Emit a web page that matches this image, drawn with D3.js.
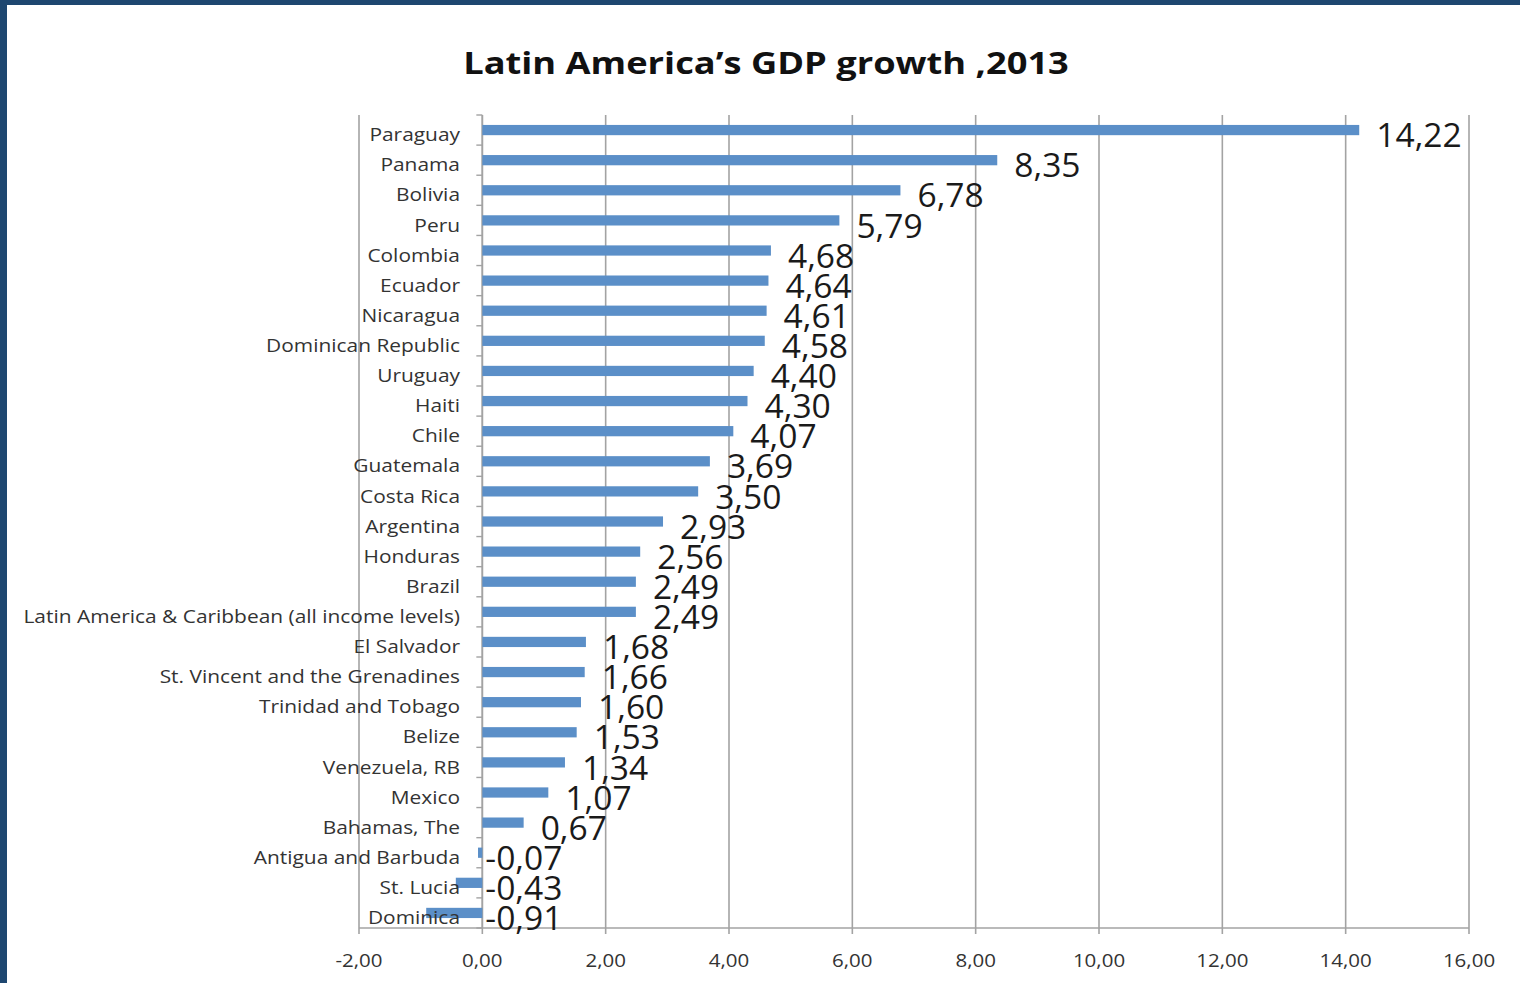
<!DOCTYPE html>
<html>
<head>
<meta charset="utf-8">
<script src="https://cdn.jsdelivr.net/npm/d3@7"></script>
<style>
  html, body { margin: 0; padding: 0; background: #ffffff; }
  svg { display: block; }
</style>
</head>
<body>
<script>
// GDP growth (annual %), 2013, top to bottom
const countries = [
  "Paraguay", "Panama", "Bolivia", "Peru", "Colombia", "Ecuador", "Nicaragua",
  "Dominican Republic", "Uruguay", "Haiti", "Chile", "Guatemala", "Costa Rica",
  "Argentina", "Honduras", "Brazil", "Latin America & Caribbean (all income levels)",
  "El Salvador", "St. Vincent and the Grenadines", "Trinidad and Tobago", "Belize",
  "Venezuela, RB", "Mexico", "Bahamas, The", "Antigua and Barbuda", "St. Lucia", "Dominica"
];
const growth = [
  14.22, 8.35, 6.78, 5.79, 4.68, 4.64, 4.61,
  4.58, 4.40, 4.30, 4.07, 3.69, 3.50,
  2.93, 2.56, 2.49, 2.49,
  1.68, 1.66, 1.60, 1.53,
  1.34, 1.07, 0.67, -0.07, -0.43, -0.91
];
const xTicks = [-2, 0, 2, 4, 6, 8, 10, 12, 14, 16];
const title = "Latin America\u2019s GDP growth ,2013";

const W = 1520, H = 983;
const plot = { left: 359, right: 1469, top: 115, bottom: 928 };
const font = "'Open Sans', sans-serif";

const locale = d3.formatLocale({ decimal: ",", thousands: ".", grouping: [3], currency: ["", ""], minus: "-" });
const fmt = locale.format(".2f");

const svg = d3.select("body").append("svg").attr("width", W).attr("height", H);

svg.append("rect").attr("width", W).attr("height", H).attr("fill", "#ffffff");
// frame strips
svg.append("rect").attr("x", 0).attr("y", 0).attr("width", W).attr("height", 5).attr("fill", "#1e4770");
svg.append("rect").attr("x", 0).attr("y", 0).attr("width", 7).attr("height", H).attr("fill", "#1e4770");

const x = d3.scaleLinear().domain([xTicks[0], xTicks[xTicks.length - 1]]).range([plot.left, plot.right]);
const y = d3.scaleBand().domain(countries).range([plot.top, plot.bottom]).padding(0);

const gridColor = "#a3a3a3";

// vertical gridlines
svg.append("g").selectAll("line").data(xTicks).join("line")
  .attr("x1", d => x(d)).attr("x2", d => x(d))
  .attr("y1", plot.top).attr("y2", plot.bottom + 6)
  .attr("stroke", gridColor).attr("stroke-width", 1.6);

// bottom value axis
svg.append("line")
  .attr("x1", x(xTicks[0])).attr("x2", x(xTicks[xTicks.length - 1]))
  .attr("y1", plot.bottom).attr("y2", plot.bottom)
  .attr("stroke", gridColor).attr("stroke-width", 1.6);

svg.append("g").selectAll("text").data(xTicks).join("text")
  .attr("transform", d => `translate(${x(d)},960) scale(1.08,1)`)
  .attr("text-anchor", "middle").attr("dominant-baseline", "central")
  .attr("font-family", font).attr("font-size", 19)
  .attr("fill", "#333333")
  .text(d => fmt(d));

// category axis at zero with boundary ticks
const x0 = x(0);
svg.append("line")
  .attr("x1", x0).attr("x2", x0).attr("y1", plot.top).attr("y2", plot.bottom)
  .attr("stroke", gridColor).attr("stroke-width", 1.6);
const bounds = countries.map(c => y(c)).concat([plot.bottom]);
svg.append("g").selectAll("line").data(bounds).join("line")
  .attr("x1", x0 - 6).attr("x2", x0)
  .attr("y1", d => d).attr("y2", d => d)
  .attr("stroke", gridColor).attr("stroke-width", 1.4);

// bars
const barH = y.bandwidth() * 0.34;
svg.append("g").selectAll("rect").data(countries).join("rect")
  .attr("x", (c, i) => x(Math.min(0, growth[i])))
  .attr("width", (c, i) => Math.abs(x(growth[i]) - x0))
  .attr("y", c => y(c) + y.bandwidth() / 2 - barH / 2)
  .attr("height", barH)
  .attr("fill", "#5b8fc8");

// category labels
svg.append("g").selectAll("text").data(countries).join("text")
  .attr("transform", c => `translate(460,${y(c) + y.bandwidth() / 2 + 4}) scale(1.1,1)`)
  .attr("text-anchor", "end").attr("dominant-baseline", "central")
  .attr("font-family", font).attr("font-size", 19)
  .attr("fill", "#333333")
  .text(c => c);

// value labels
svg.append("g").selectAll("text").data(countries).join("text")
  .attr("transform", (c, i) => {
    const lx = growth[i] >= 0 ? x(growth[i]) + 17 : x0 + 3;
    return `translate(${lx},${y(c) + y.bandwidth() / 2 + 5}) scale(1.05,1)`;
  })
  .attr("dominant-baseline", "central")
  .attr("font-family", font).attr("font-size", 32)
  .attr("fill", "#1a1a1a")
  .text((c, i) => fmt(growth[i]));

// title
svg.append("text")
  .attr("transform", "translate(766,62) scale(1.17,1)")
  .attr("text-anchor", "middle").attr("dominant-baseline", "central")
  .attr("font-family", font).attr("font-weight", "bold").attr("font-size", 31)
  .attr("fill", "#111111")
  .text(title);
</script>
</body>
</html>
